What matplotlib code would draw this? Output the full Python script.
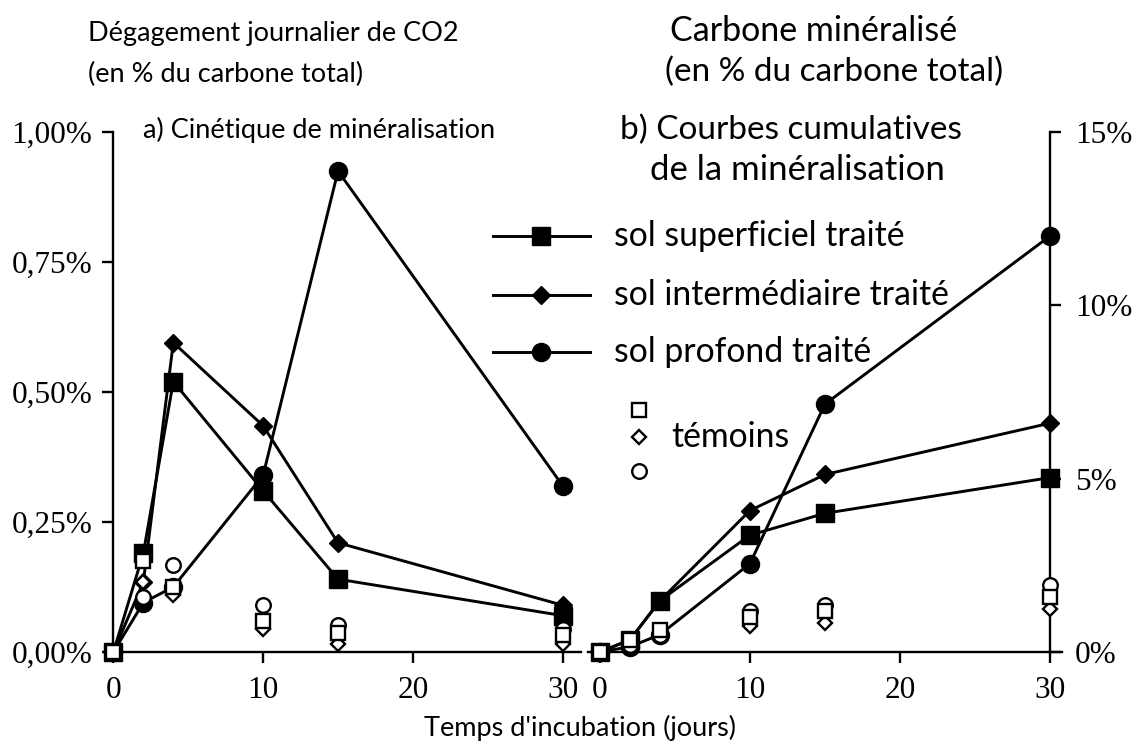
import matplotlib
matplotlib.use("Agg")
import matplotlib.pyplot as plt
from matplotlib.lines import Line2D
from matplotlib.ticker import FixedLocator

# incubation days
days = [0, 2, 4, 10, 15, 30]

# a) daily CO2 release (% of total carbon)
daily_sup = [0.0, 0.19, 0.52, 0.31, 0.14, 0.07]
daily_int = [0.0, 0.135, 0.595, 0.435, 0.21, 0.09]
daily_prof = [0.0, 0.095, 0.125, 0.34, 0.925, 0.32]
daily_ctl_sq = [0.0, 0.175, 0.125, 0.06, 0.037, 0.033]
daily_ctl_di = [0.0, 0.135, 0.11, 0.045, 0.016, 0.016]
daily_ctl_ci = [0.0, 0.105, 0.168, 0.09, 0.052, 0.045]

# b) cumulative mineralised carbon (% of total carbon)
cum_sup = [0.0, 0.35, 1.48, 3.37, 4.0, 5.03]
cum_int = [0.0, 0.35, 1.48, 4.08, 5.12, 6.6]
cum_prof = [0.0, 0.15, 0.5, 2.55, 7.15, 12.0]
cum_ctl_sq = [0.0, 0.35, 0.64, 1.0, 1.17, 1.6]
cum_ctl_di = [0.0, 0.3, 0.55, 0.75, 0.85, 1.25]
cum_ctl_ci = [0.0, 0.2, 0.49, 1.17, 1.36, 1.94]

left_ticks = [0, 0.25, 0.5, 0.75, 1.0]
left_labels = ["0,00%", "0,25%", "0,50%", "0,75%", "1,00%"]
right_ticks = [0, 5, 10, 15]
right_labels = ["0%", "5%", "10%", "15%"]
x_ticks = [0, 10, 20, 30]

series_labels = ["sol superficiel traité", "sol intermédiaire traité",
                 "sol profond traité"]
series_markers = [("s", 12.5), ("D", 9), ("o", 13)]

SANS = "Lato"
SERIF = "Liberation Serif"
LW = 2.1
W, H = 1139, 750

fig = plt.figure(figsize=(W / 100, H / 100), dpi=100)
fig.patch.set_facecolor("white")

ax1 = fig.add_axes([0.0917, 0.1307, 0.418, 0.6933])
ax2 = fig.add_axes([0.5162, 0.1307, 0.4162, 0.6933])

treated_style = dict(color="black", lw=LW, markerfacecolor="black",
                     markeredgecolor="black", clip_on=False, zorder=3)
ctl_style = dict(ls="none", markerfacecolor="white", markeredgecolor="black",
                 markeredgewidth=1.7, clip_on=False, zorder=5)


def draw_panel(ax, sup, inter, prof, csq, cdi, cci):
    for vals, (mk, ms) in zip([sup, inter, prof], series_markers):
        ax.plot(days, vals, marker=mk, ms=ms, **treated_style)
    ax.plot(days, cdi, marker="D", ms=7, **ctl_style)
    ax.plot(days, cci, marker="o", ms=10.5, **ctl_style)
    ax.plot(days, csq, marker="s", ms=10, **ctl_style)


draw_panel(ax1, daily_sup, daily_int, daily_prof,
           daily_ctl_sq, daily_ctl_di, daily_ctl_ci)
draw_panel(ax2, cum_sup, cum_int, cum_prof,
           cum_ctl_sq, cum_ctl_di, cum_ctl_ci)

# left panel axes
ax1.set_xlim(-0.6, 31.2)
ax1.set_ylim(0, 1.0)
ax1.spines["left"].set_position(("data", 0))
ax1.spines["top"].set_visible(False)
ax1.spines["right"].set_visible(False)
ax1.yaxis.set_major_locator(FixedLocator(left_ticks))
ax1.set_yticklabels(left_labels)

# right panel axes
ax2.set_xlim(-0.8, 30.8)
ax2.set_ylim(0, 15)
ax2.spines["right"].set_position(("data", 30))
ax2.spines["top"].set_visible(False)
ax2.spines["left"].set_visible(False)
ax2.yaxis.tick_right()
ax2.yaxis.set_major_locator(FixedLocator(right_ticks))
ax2.set_yticklabels(right_labels)

for ax in (ax1, ax2):
    ax.set_facecolor("none")
    ax.xaxis.set_major_locator(FixedLocator(x_ticks))
    ax.set_xticklabels([str(t) for t in x_ticks])
    for sp in ax.spines.values():
        sp.set_linewidth(1.7)
    ax.tick_params(direction="out", length=8, width=1.7, labelsize=22.5)
    ax.tick_params(axis="x", pad=9)
    for lab in ax.get_xticklabels() + ax.get_yticklabels():
        lab.set_family(SERIF)

ax1.tick_params(axis="y", pad=7)
ax2.tick_params(axis="y", pad=10)


def ftext(xpx, ypx, s, size, ha="left"):
    fig.text(xpx / W, 1 - ypx / H, s, family=SANS, fontsize=size,
             va="center", ha=ha)


# titles
ftext(88, 33, "Dégagement journalier de CO2", 19.5)
ftext(88, 74, "(en % du carbone total)", 19.5)
ftext(670, 31, "Carbone minéralisé", 24.5)
ftext(665, 72, "(en % du carbone total)", 24)
ftext(143, 130, "a) Cinétique de minéralisation", 19.5)
ftext(620, 130, "b) Courbes cumulatives", 24)
ftext(650, 170, "de la minéralisation", 25)
ftext(580, 728, "Temps d'incubation (jours)", 19.5, ha="center")

# legend for treated soils (line + marker key, label to the right)
for ypx, lab, (mk, ms) in zip([236, 295, 352], series_labels, series_markers):
    yf = 1 - ypx / H
    fig.add_artist(Line2D([493 / W, 590 / W], [yf, yf], color="black", lw=LW,
                          transform=fig.transFigure))
    fig.add_artist(Line2D([541 / W], [yf], marker=mk, ms=ms, ls="none",
                          color="black", transform=fig.transFigure))
    ftext(614, ypx, lab, 24.3)

# control legend: three open markers with one label
ctl_keys = [("s", 10, 410), ("D", 7, 437), ("o", 10.5, 471)]
for mk, ms, ypx in ctl_keys:
    fig.add_artist(Line2D([639 / W], [1 - ypx / H], marker=mk, ms=ms,
                          ls="none", markerfacecolor="white",
                          markeredgecolor="black", markeredgewidth=1.7,
                          transform=fig.transFigure))
ftext(671, 437, "témoins", 24.3)

fig.savefig("out.png", dpi=100, facecolor="white")
